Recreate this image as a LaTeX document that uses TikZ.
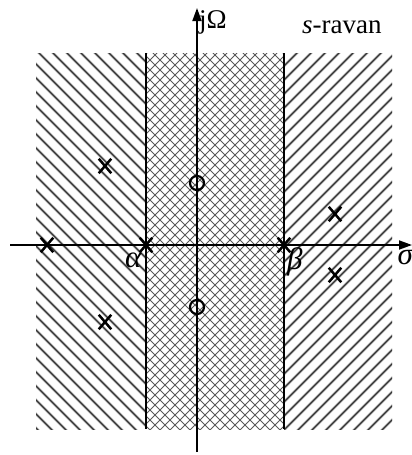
\documentclass[tikz,border=0pt]{standalone}
\usepackage{fontspec}
\setmainfont{Liberation Serif}
\usetikzlibrary{arrows.meta,shapes.misc}
\tikzset{
  hatchglow/.style={line width=2.8pt, black!25},
  hatchline/.style={line width=1.2pt, black!80},
  crossline/.style={line width=1pt, black!65},
  boundary/.style={line width=1.6pt, black},
  axis/.style={line width=1.8pt, black, -{Triangle[length=13pt,width=9pt]}},
  pole/.style={cross out, draw, line width=2.5pt, minimum width=10pt, minimum height=12pt, inner sep=0pt},
  zero/.style={circle, draw, line width=2.2pt, minimum size=14pt, inner sep=0pt},
  lbl/.style={inner sep=0pt, font=\fontsize{27}{30}\selectfont},
  greek/.style={inner sep=0pt, font=\fontsize{31}{34}\selectfont\itshape}
}
\begin{document}
\begin{tikzpicture}[x=1pt,y=-1pt]
\useasboundingbox (0,0) rectangle (412,455);
% left region hatching "\"
\begin{scope}
  \clip (36,53) rectangle (146,429);
  \foreach \c in {-420,-406,...,160} {
    \draw[hatchglow] (\c,0) -- ++(500,500);
    \draw[hatchline] (\c,0) -- ++(500,500);
  }
\end{scope}
% right region hatching "/"
\begin{scope}
  \clip (284,53) rectangle (392,429);
  \foreach \c in {280,294,...,880} {
    \draw[hatchglow] (\c,0) -- ++(-500,500);
    \draw[hatchline] (\c,0) -- ++(-500,500);
  }
\end{scope}
% middle crosshatch
\begin{scope}
  \clip (146,53) rectangle (284,429);
  \foreach \c in {-300,-290,...,300} \draw[crossline] (\c,0) -- ++(500,500);
  \foreach \c in {140,150,...,740} \draw[crossline] (\c,0) -- ++(-500,500);
\end{scope}
% region boundaries
\coordinate (a1) at (146,53); \coordinate (a2) at (146,429);
\coordinate (b1) at (284,53); \coordinate (b2) at (284,429);
\draw[boundary] (a1) -- (a2);
\draw[boundary] (b1) -- (b2);
% axes
\coordinate (xs) at (10,245); \coordinate (xe) at (412,245);
\coordinate (ys) at (197,452); \coordinate (ye) at (197,8);
\draw[axis] (xs) -- (xe);
\draw[axis] (ys) -- (ye);
% labels
\node[lbl, anchor=base west] (jw) at (199,28) {jΩ};
\node[lbl, anchor=base west] (sr) at (302,33) {\textit{s}-ravan};
\node[greek, anchor=base east] (sig) at (413,264) {σ};
\node[greek, anchor=base west] (al) at (125,267) {α};
\node[greek, anchor=base west] (be) at (287,269) {β};
% poles
\node[pole] (p1) at (47,245) {};
\node[pole] (p2) at (146,245) {};
\node[pole] (p3) at (284,245) {};
\node[pole] (p4) at (105,166) {};
\node[pole] (p5) at (105,322) {};
\node[pole] (p6) at (335,214) {};
\node[pole] (p7) at (335,275) {};
% zeros
\node[zero] (z1) at (197,183) {};
\node[zero] (z2) at (197,307) {};
\end{tikzpicture}
\end{document}
